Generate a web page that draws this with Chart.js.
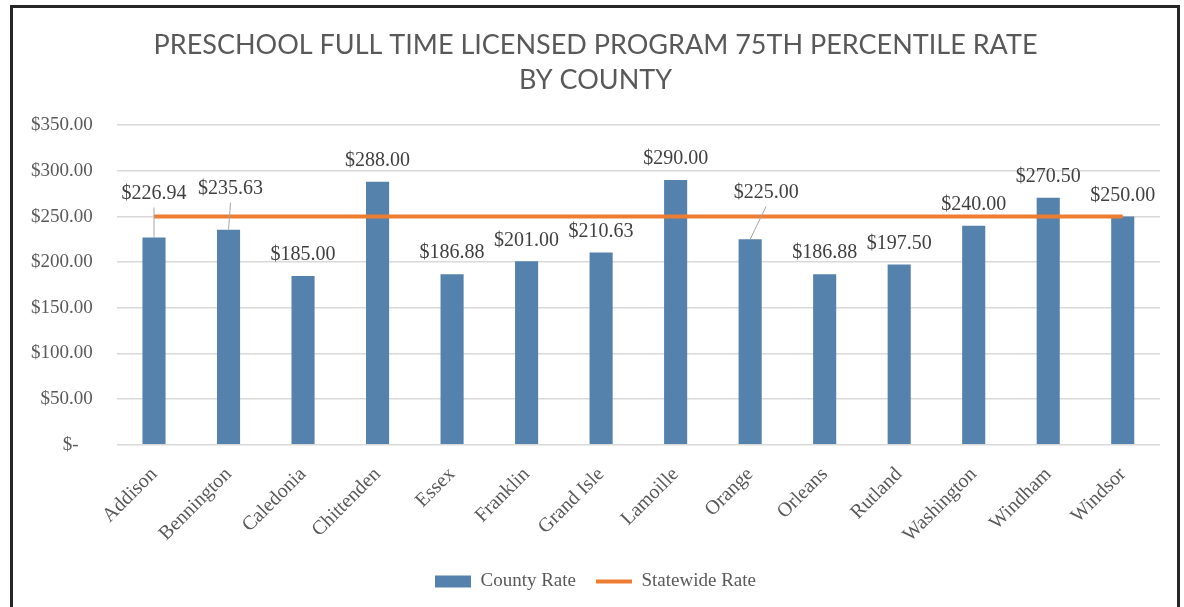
<!DOCTYPE html>
<html>
<head>
<meta charset="utf-8">
<script src="https://cdn.jsdelivr.net/npm/chart.js@4.4.1/dist/chart.umd.min.js"></script>
<style>
  html, body { margin: 0; padding: 0; background: #fff; }
  #wrap { position: absolute; left: 0; top: 0; width: 1184px; height: 607px; }
  #frame { position: absolute; left: 10px; top: 5px; width: 1164px; height: 640px; border: 3px solid #262626; pointer-events: none; }
</style>
</head>
<body>
<div id="wrap"><canvas id="rates"></canvas></div>
<div id="frame"></div>
<script>
let counties = ['Addison', 'Bennington', 'Caledonia', 'Chittenden', 'Essex', 'Franklin', 'Grand Isle', 'Lamoille', 'Orange', 'Orleans', 'Rutland', 'Washington', 'Windham', 'Windsor'];
let countyRate = [226.94, 235.63, 185.00, 288.00, 186.88, 201.00, 210.63, 290.00, 225.00, 186.88, 197.50, 240.00, 270.50, 250.00];
let statewideRate = [250, 250, 250, 250, 250, 250, 250, 250, 250, 250, 250, 250, 250, 250];
let titleLines = ['PRESCHOOL FULL TIME LICENSED PROGRAM 75TH PERCENTILE RATE', 'BY COUNTY'];

let serif = "'Liberation Serif', 'DejaVu Serif', serif";

function money(v) {
    if (v === 0) return '$-   ';
    return '$' + v.toFixed(2);
}

// labels that Excel pushed up and tied back with a leader line
let moved = {0: [0, -23], 1: [2, -20], 8: [16, -26]};

let barLabels = {
    id: 'barLabels',
    afterDatasetsDraw(chart) {
        let ctx = chart.ctx;
        let bars = chart.getDatasetMeta(0).data;
        ctx.save();
        ctx.font = '20px ' + serif;
        ctx.fillStyle = '#404040';
        ctx.textAlign = 'center';
        ctx.textBaseline = 'middle';
        bars.forEach((bar, i) => {
            let x = bar.x;
            let y = bar.y - 21;
            if (moved[i]) {
                let lx = x + moved[i][0];
                let ly = y + moved[i][1];
                ctx.strokeStyle = '#a6a6a6';
                ctx.lineWidth = 1;
                ctx.beginPath();
                ctx.moveTo(lx, ly + 14);
                ctx.lineTo(x, bar.y);
                ctx.stroke();
                x = lx;
                y = ly;
            }
            ctx.fillText(money(countyRate[i]), x, y);
        });
        ctx.restore();
    }
};

let ratesChart = new Chart(document.getElementById('rates').getContext('2d'), {
    type: 'bar',
    data: {
        labels: counties,
        datasets: [{
            label: 'County Rate',
            data: countyRate,
            backgroundColor: '#5581ad',
            borderWidth: 0,
            barPercentage: 0.31,
            categoryPercentage: 1,
            pointStyle: 'rect',
            order: 2
        }, {
            type: 'line',
            label: 'Statewide Rate',
            data: statewideRate,
            borderColor: '#ed7d31',
            backgroundColor: '#ed7d31',
            borderWidth: 4,
            pointRadius: 0,
            pointStyle: 'line',
            order: 1
        }]
    },
    options: {
        responsive: true,
        maintainAspectRatio: false,
        animation: false,
        layout: { padding: { left: 31, right: 24, top: 28, bottom: 6 } },
        plugins: {
            title: {
                display: true,
                text: titleLines,
                color: '#595959',
                font: { family: "Lato, 'Open Sans', sans-serif", size: 27, weight: 'normal', lineHeight: 1.3 },
                padding: { top: 0, bottom: 27 }
            },
            legend: {
                position: 'bottom',
                labels: {
                    usePointStyle: true,
                    pointStyleWidth: 36,
                    boxHeight: 12,
                    color: '#595959',
                    font: { family: serif, size: 19 },
                    padding: 20,
                    sort: (a, b) => a.datasetIndex - b.datasetIndex
                }
            },
            tooltip: { enabled: false }
        },
        scales: {
            x: {
                grid: { display: false },
                border: { display: false },
                ticks: {
                    color: '#595959',
                    font: { family: serif, size: 20 },
                    minRotation: 45,
                    maxRotation: 45,
                    padding: 10
                },
                afterFit(scale) {
                    scale.paddingLeft = 0;
                    scale.paddingRight = 0;
                    scale.height -= 5;
                }
            },
            y: {
                min: 0,
                max: 350,
                grid: { color: '#d9d9d9', lineWidth: 1.5, drawTicks: false },
                border: { display: false },
                ticks: {
                    stepSize: 50,
                    color: '#595959',
                    font: { family: serif, size: 19 },
                    padding: 24,
                    callback: v => money(v)
                },
                afterFit(scale) {
                    scale.width -= 24;
                }
            }
        }
    },
    plugins: [barLabels]
});
</script>
</body>
</html>
